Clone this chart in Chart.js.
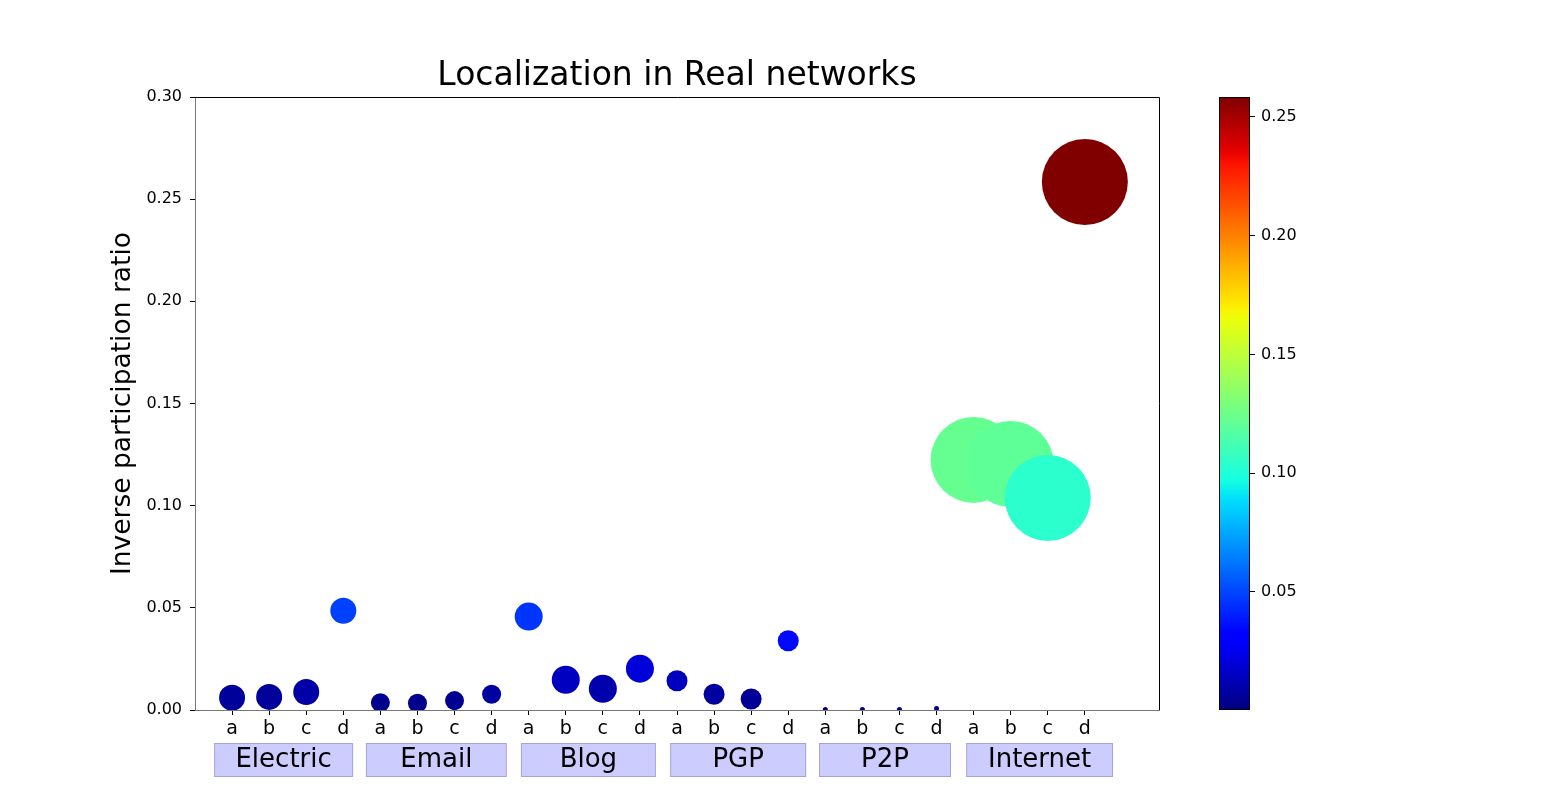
<!DOCTYPE html>
<html>
<head>
<meta charset="utf-8">
<script src="https://cdn.jsdelivr.net/npm/chart.js@4.4.0/dist/chart.umd.min.js"></script>
<style>
  html, body { margin: 0; padding: 0; background: #fff; }
  #wrap { position: relative; width: 1555px; height: 798px; }
  #wrap canvas { position: absolute; left: 0; top: 0; }
</style>
</head>
<body>
<div id="wrap">
  <canvas id="main" width="1555" height="798"></canvas>
  <canvas id="cbar" width="1555" height="798"></canvas>
</div>
<script>
const groups = ['Electric', 'Email', 'Blog', 'PGP', 'P2P', 'Internet'];
const subLabels = ['a', 'b', 'c', 'd'];
// inverse participation ratio, four cases per network
const ipr = [
  0.0060, 0.0064, 0.0088, 0.0486,
  0.0036, 0.0033, 0.0046, 0.0077,
  0.0457, 0.0148, 0.0104, 0.0202,
  0.0143, 0.0077, 0.0054, 0.0339,
  0.0003, 0.0003, 0.0002, 0.0007,
  0.1224, 0.1204, 0.1038, 0.2584
];
// marker radius (px)
const markerSize = [
  13, 13, 13, 13,
  9.5, 9.5, 9.5, 9.5,
  14, 14, 14, 14,
  10.5, 10.5, 10.5, 10.5,
  2.5, 2.5, 2.5, 2.5,
  43, 43, 43, 43
];
const yTicks = [0, 0.05, 0.10, 0.15, 0.20, 0.25, 0.30];
const cbarTicks = [0.05, 0.10, 0.15, 0.20, 0.25];
const title = 'Localization in Real networks';

const FONT = 'DejaVu Sans';
const vmin = Math.min(...ipr);
const vmax = Math.max(...ipr);

// matplotlib 'jet'
const jetSeg = {
  r: [[0, 0], [0.35, 0], [0.66, 1], [0.89, 1], [1, 0.5]],
  g: [[0, 0], [0.125, 0], [0.375, 1], [0.64, 1], [0.91, 0], [1, 0]],
  b: [[0, 0.5], [0.11, 1], [0.34, 1], [0.65, 0], [1, 0]]
};
function seg(s, t) {
  for (let i = 1; i < s.length; i++) {
    if (t <= s[i][0]) {
      const f = (t - s[i - 1][0]) / (s[i][0] - s[i - 1][0]);
      return s[i - 1][1] + f * (s[i][1] - s[i - 1][1]);
    }
  }
  return s[s.length - 1][1];
}
function jet(t) {
  t = Math.max(0, Math.min(1, t));
  const c = k => Math.round(255 * seg(jetSeg[k], t));
  return 'rgb(' + c('r') + ',' + c('g') + ',' + c('b') + ')';
}

const points = ipr.map((v, i) => ({ x: i, y: v, r: markerSize[i] }));
const colors = ipr.map(v => jet((v - vmin) / (vmax - vmin)));

// group label boxes: centre and width in x data units
const boxLayout = [[1.39, 3.75], [5.51, 3.80], [9.61, 3.64], [13.65, 3.67], [17.61, 3.56], [21.78, 3.96]];

const framePlugin = {
  id: 'frame',
  afterDraw(chart) {
    const { ctx, chartArea: a, scales: { x } } = chart;
    ctx.save();
    ctx.strokeStyle = '#000';
    ctx.lineWidth = 1;
    ctx.beginPath();
    ctx.moveTo(a.left, a.top + 0.5);
    ctx.lineTo(a.right + 0.5, a.top + 0.5);
    ctx.lineTo(a.right + 0.5, a.bottom);
    ctx.stroke();

    // title, centred over the axes
    ctx.fillStyle = '#000';
    ctx.font = '33px "' + FONT + '"';
    ctx.textAlign = 'center';
    ctx.textBaseline = 'alphabetic';
    ctx.fillText(title, (a.left + a.right) / 2, a.top - 12);

    ctx.font = '26px "' + FONT + '"';
    groups.forEach((g, i) => {
      const cx = x.getPixelForValue(boxLayout[i][0]);
      const w = x.getPixelForValue(boxLayout[i][1]) - x.getPixelForValue(0);
      const top = a.bottom + 33, h = 34;
      ctx.fillStyle = 'rgb(204,204,255)';
      ctx.fillRect(cx - w / 2, top, w, h);
      ctx.strokeStyle = 'rgba(0,0,60,0.2)';
      ctx.strokeRect(cx - w / 2 + 0.5, top + 0.5, w - 1, h - 1);
      ctx.fillStyle = '#000';
      ctx.fillText(g, cx, a.bottom + 57);
    });
    ctx.restore();
  }
};

new Chart(document.getElementById('main'), {
  type: 'bubble',
  data: {
    datasets: [{
      data: points,
      backgroundColor: colors,
      borderWidth: 0,
      clip: 0
    }]
  },
  options: {
    responsive: false,
    animation: false,
    events: [],
    layout: { padding: { left: 0, right: 396, top: 97, bottom: 0 } },
    plugins: {
      legend: { display: false },
      tooltip: { enabled: false },
      title: { display: false }
    },
    scales: {
      x: {
        type: 'linear',
        min: -1,
        max: 25,
        afterBuildTicks: s => { s.ticks = ipr.map((_, i) => ({ value: i })); },
        afterFit: s => { s.height = 88; s.paddingLeft = 0; s.paddingRight = 0; },
        ticks: {
          callback: v => subLabels[v % 4],
          autoSkip: false,
          maxRotation: 0,
          color: '#000',
          padding: 3,
          font: { family: FONT, size: 19 }
        },
        grid: { drawOnChartArea: false, drawTicks: true, tickLength: 5, color: '#000' },
        border: { color: '#777', width: 1 }
      },
      y: {
        min: 0,
        max: 0.30,
        afterBuildTicks: s => { s.ticks = yTicks.map(v => ({ value: v })); },
        afterFit: s => { s.width = 195; s.paddingTop = 0; s.paddingBottom = 0; },
        ticks: {
          callback: v => v.toFixed(2),
          color: '#000',
          padding: 8,
          font: { family: FONT, size: 16 }
        },
        grid: { drawOnChartArea: false, drawTicks: true, tickLength: 5, color: '#000' },
        border: { color: '#777', width: 1 },
        title: {
          display: true,
          text: 'Inverse participation ratio',
          color: '#000',
          font: { family: FONT, size: 26.5 },
          padding: { top: 107, bottom: 0 }
        }
      }
    }
  },
  plugins: [framePlugin]
});

const cbarPlugin = {
  id: 'cbarFill',
  beforeDatasetsDraw(chart) {
    const { ctx, chartArea: a } = chart;
    const grad = ctx.createLinearGradient(0, a.bottom, 0, a.top);
    for (let i = 0; i <= 64; i++) grad.addColorStop(i / 64, jet(i / 64));
    ctx.save();
    ctx.fillStyle = grad;
    ctx.fillRect(a.left, a.top, a.right - a.left, a.bottom - a.top);
    ctx.strokeStyle = '#000';
    ctx.lineWidth = 1;
    ctx.strokeRect(a.left + 0.5, a.top + 0.5, a.right - a.left - 1, a.bottom - a.top - 1);
    ctx.restore();
  }
};

new Chart(document.getElementById('cbar'), {
  type: 'scatter',
  data: { datasets: [{ data: [] }] },
  options: {
    responsive: false,
    animation: false,
    events: [],
    layout: { padding: { left: 1219, right: 225, top: 97, bottom: 88 } },
    plugins: { legend: { display: false }, tooltip: { enabled: false } },
    scales: {
      x: { display: false, min: 0, max: 1 },
      y: {
        position: 'right',
        min: vmin,
        max: vmax,
        afterBuildTicks: s => { s.ticks = cbarTicks.map(v => ({ value: v })); },
        afterFit: s => { s.width = 80; s.paddingTop = 0; s.paddingBottom = 0; },
        ticks: {
          callback: v => v.toFixed(2),
          color: '#000',
          padding: 6,
          font: { family: FONT, size: 16 }
        },
        grid: { drawOnChartArea: false, drawTicks: true, tickLength: 5, color: '#000' },
        border: { display: false }
      }
    }
  },
  plugins: [cbarPlugin]
});
</script>
</body>
</html>
